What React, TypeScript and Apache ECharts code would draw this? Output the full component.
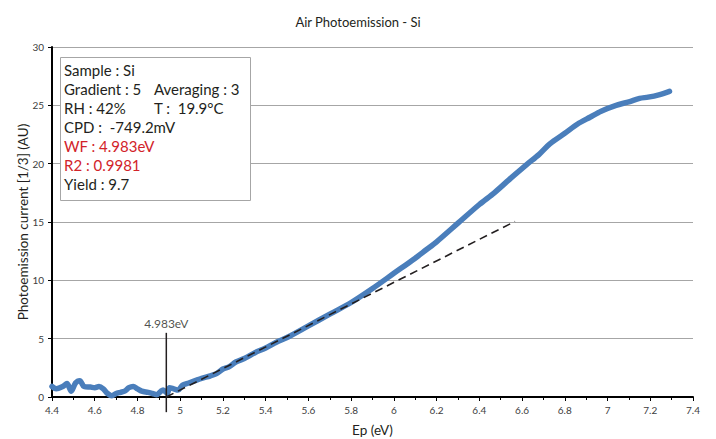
import React, { useEffect, useRef } from "react";
import * as echarts from "echarts";

const energy = [
  4.40, 4.42, 4.45, 4.47, 4.49, 4.51, 4.53, 4.55, 4.58, 4.60, 4.62, 4.64, 4.66, 4.68, 4.70,
  4.72, 4.74, 4.76, 4.78, 4.80, 4.82, 4.85, 4.87, 4.89, 4.91, 4.92, 4.94, 4.95, 4.97, 4.99,
  5.01, 5.04, 5.07, 5.10, 5.14, 5.17, 5.20, 5.23, 5.26, 5.30, 5.35, 5.40, 5.45, 5.50, 5.60,
  5.70, 5.80, 5.90, 6.00, 6.10, 6.15, 6.20, 6.30, 6.40, 6.47, 6.55, 6.62, 6.68, 6.73, 6.80,
  6.86, 6.92, 6.97, 7.04, 7.10, 7.15, 7.19, 7.24, 7.29,
];
const current = [
  0.9, 0.7, 0.9, 1.15, 0.5, 1.2, 1.4, 0.9, 0.85, 0.8, 0.9, 0.7, 0.3, 0.1, 0.3,
  0.4, 0.5, 0.8, 0.9, 0.7, 0.5, 0.4, 0.3, 0.2, 0.5, 0.6, 0.3, 0.8, 0.7, 0.6,
  1.0, 1.2, 1.4, 1.6, 1.8, 2.0, 2.4, 2.6, 3.0, 3.3, 3.8, 4.2, 4.7, 5.1, 6.1,
  7.1, 8.1, 9.3, 10.6, 11.9, 12.6, 13.3, 14.9, 16.5, 17.5, 18.8, 19.9, 20.8, 21.7, 22.6,
  23.4, 24.0, 24.5, 25.0, 25.3, 25.6, 25.7, 25.9, 26.2,
];
const fitLine = [
  [4.935, 0],
  [6.567, 15.05],
];
const wfMarker = [
  [4.935, -1.3],
  [4.935, 5.5],
];
const wfLabel = "4.983eV";
const infoLines = [
  "Sample : Si",
  "Gradient : 5",
  "RH : 42%",
  "CPD :  -749.2mV",
  "WF : 4.983eV",
  "R2 : 0.9981",
  "Yield : 9.7",
];
const infoRight = ["", "Averaging : 3", "T :  19.9°C", "", "", "", ""];
const redLines = [4, 5];

const FONT = "Lato";

export default function App() {
  const ref = useRef<HTMLDivElement>(null);
  useEffect(() => {
    document.body.style.margin = "0";
    const chart = echarts.init(ref.current!, null, { renderer: "svg" });
    const textEls: any[] = [];
    infoLines.forEach((t, i) => {
      textEls.push({
        type: "text",
        x: 64,
        y: 70 + i * 19,
        z: 12,
        style: {
          text: t,
          fill: redLines.includes(i) ? "#d2232a" : "#231f20",
          fontSize: 15,
          fontFamily: FONT,
          verticalAlign: "middle",
        },
      });
      if (infoRight[i]) {
        textEls.push({
          type: "text",
          x: 154,
          y: 70 + i * 19,
          z: 12,
          style: {
            text: infoRight[i],
            fill: "#231f20",
            fontSize: 15,
            fontFamily: FONT,
            verticalAlign: "middle",
          },
        });
      }
    });
    const data = energy.map((e, i) => [e, current[i]]);
    chart.setOption({
      animation: false,
      backgroundColor: "#fff",
      title: {
        text: "Air Photoemission - Si",
        left: "center",
        top: 10,
        textStyle: { fontSize: 13, fontWeight: "normal", color: "#231f20", fontFamily: FONT },
      },
      grid: { left: 52, right: 23, top: 47, bottom: 42, outerBoundsMode: "none", containLabel: false },
      xAxis: {
        type: "value",
        min: 4.4,
        max: 7.4,
        interval: 0.2,
        name: "Ep (eV)",
        nameLocation: "middle",
        nameGap: 26,
        nameMoveOverlap: false,
        nameTextStyle: { fontSize: 13.5, color: "#231f20", fontFamily: FONT },
        axisLine: { show: true, onZero: false, lineStyle: { color: "#000", width: 2 } },
        axisTick: { show: true, length: 4, lineStyle: { color: "#000" } },
        minorTick: { show: true, splitNumber: 2, length: 3, lineStyle: { color: "#000" } },
        axisLabel: {
          fontSize: 10,
          color: "#404040",
          fontFamily: FONT,
          margin: 8,
          formatter: (v: number) => String(Math.round(v * 10) / 10),
        },
        splitLine: { show: false },
      },
      yAxis: {
        type: "value",
        min: 0,
        max: 30,
        interval: 5,
        name: "Photoemission current [1/3] (AU)",
        nameLocation: "middle",
        nameGap: 22,
        nameMoveOverlap: false,
        nameTextStyle: { fontSize: 13.5, color: "#231f20", fontFamily: FONT },
        axisLine: { show: true, lineStyle: { color: "#000", width: 2 } },
        axisTick: { show: true, length: 4, lineStyle: { color: "#000" } },
        axisLabel: { fontSize: 10, color: "#404040", fontFamily: FONT, margin: 8 },
        splitLine: { show: true, lineStyle: { color: "#a6a6a6", width: 1 } },
      },
      series: [
        {
          type: "line",
          data,
          symbol: "none",
          smooth: 0.3,
          lineStyle: { color: "#4a7ebb", width: 5.5, cap: "round", join: "round" },
          z: 3,
        },
        {
          type: "line",
          data: fitLine,
          symbol: "none",
          lineStyle: { color: "#231f20", width: 1.6, type: [8, 5] },
          z: 4,
        },
        {
          type: "line",
          data: wfMarker,
          symbol: "none",
          clip: false,
          lineStyle: { color: "#231f20", width: 1.5 },
          z: 4,
        },
        {
          type: "scatter",
          data: [wfMarker[1]],
          symbolSize: 0,
          label: {
            show: true,
            position: "top",
            distance: 3,
            formatter: wfLabel,
            fontSize: 12,
            color: "#231f20",
            fontFamily: FONT,
          },
        },
      ],
      graphic: [
        {
          type: "rect",
          shape: { x: 60.5, y: 57.5, width: 190, height: 143 },
          style: { fill: "#fff", stroke: "#a6a6a6", lineWidth: 1 },
          z: 10,
        },
        ...textEls,
      ],
    });
    return () => chart.dispose();
  }, []);
  return <div ref={ref} style={{ width: 716, height: 439 }} />;
}
